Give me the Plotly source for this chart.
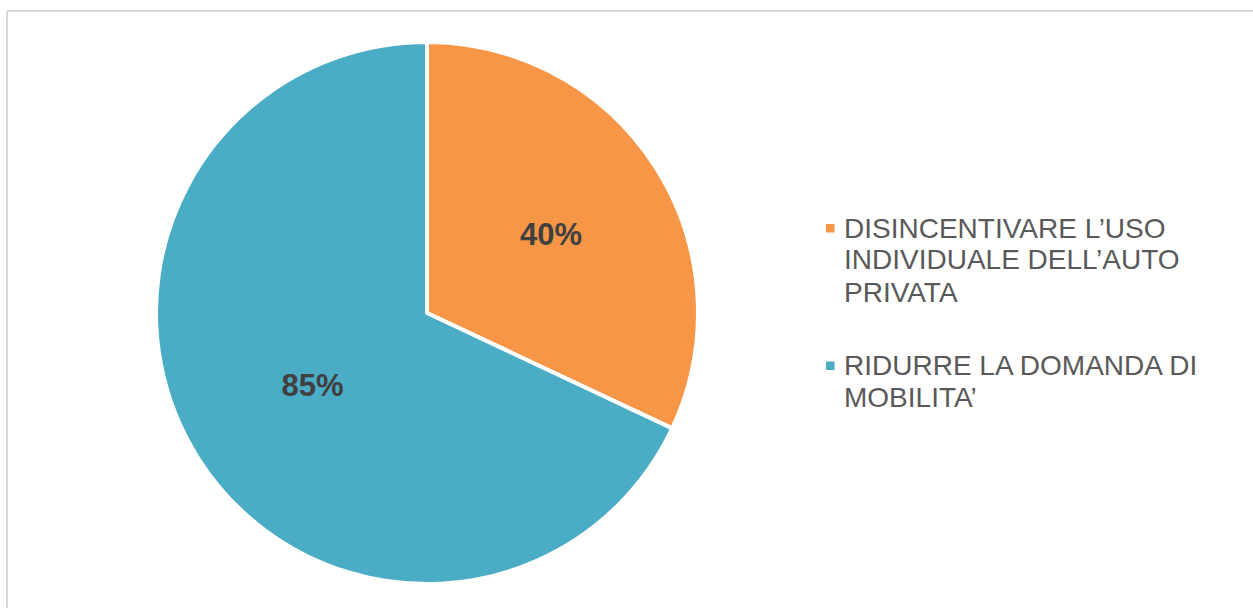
import plotly.graph_objects as go

labels = ["DISINCENTIVARE L’USO INDIVIDUALE DELL’AUTO PRIVATA", "RIDURRE LA DOMANDA DI MOBILITA’"]
legend_lines = [["DISINCENTIVARE L’USO", "INDIVIDUALE DELL’AUTO", "PRIVATA"],
                ["RIDURRE LA DOMANDA DI", "MOBILITA’"]]
values = [40, 85]
colors = ["#F79646", "#4BACC6"]

W, H = 1253, 608
cx, cy, r = 427, 313, 271

fig = go.Figure(go.Pie(
    labels=labels,
    values=values,
    marker=dict(colors=colors, line=dict(color="white", width=4)),
    sort=False,
    direction="clockwise",
    rotation=0,
    texttemplate="<b>%{value}%</b>",
    textposition="inside",
    insidetextorientation="horizontal",
    textfont=dict(family="Arial, Liberation Sans", size=31, color="#404040"),
    showlegend=False,
    hoverinfo="label+value",
    domain=dict(x=[(cx - r) / W, (cx + r) / W], y=[1 - (cy + r) / H, 1 - (cy - r) / H]),
))

# legend drawn as square markers + one text line per annotation
legend_top = [228, 365.5]
line_step = 32
shapes = [
    # chart frame (top and left edges)
    dict(type="line", xref="paper", yref="paper", x0=7 / W, x1=1, y0=1 - 11 / H, y1=1 - 11 / H,
         line=dict(color="#D9D9D9", width=2)),
    dict(type="line", xref="paper", yref="paper", x0=7 / W, x1=7 / W, y0=0, y1=1 - 11 / H,
         line=dict(color="#D9D9D9", width=2)),
]
annotations = []
for lines, col, y in zip(legend_lines, colors, legend_top):
    shapes.append(dict(type="rect", xref="paper", yref="paper",
                       x0=826 / W, x1=834.5 / W, y0=1 - (y + 4.5) / H, y1=1 - (y - 4) / H,
                       fillcolor=col, line=dict(width=0)))
    for i, ln in enumerate(lines):
        annotations.append(dict(xref="paper", yref="paper", x=842 / W, y=1 - (y + i * line_step) / H,
                                xanchor="left", yanchor="middle", align="left", showarrow=False,
                                text=ln, font=dict(family="Arial, Liberation Sans", size=28, color="#595959")))

fig.update_layout(
    width=W, height=H,
    margin=dict(l=0, r=0, t=0, b=0),
    paper_bgcolor="white", plot_bgcolor="white",
    shapes=shapes, annotations=annotations,
)
fig.write_html("out.html")
